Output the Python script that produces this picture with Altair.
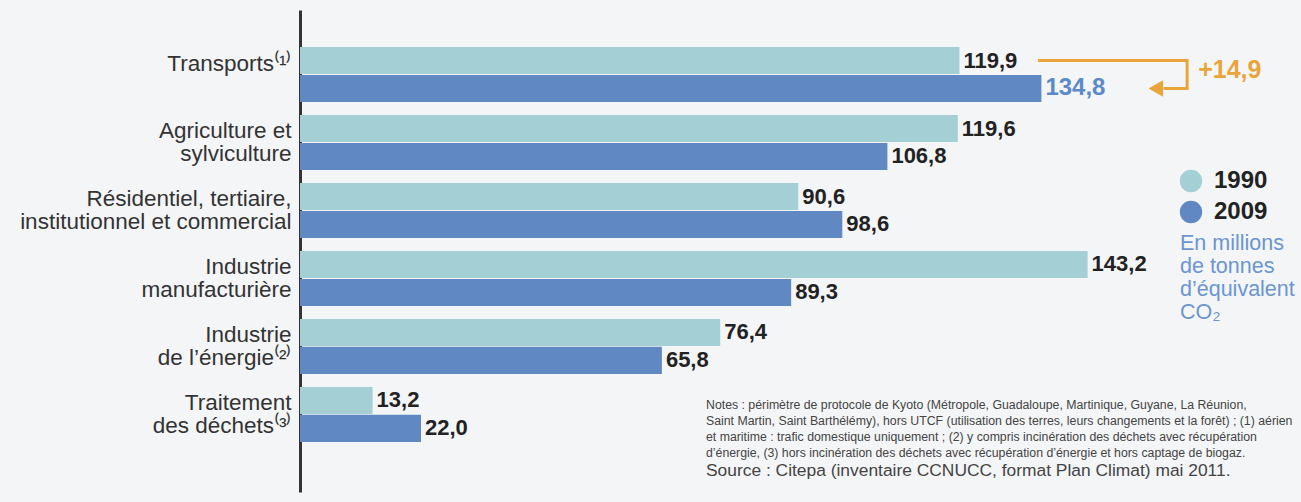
import altair as alt
import pandas as pd

categories = [
    "Transports⁽¹⁾| ",
    "Agriculture et |sylviculture",
    "Résidentiel, tertiaire, |institutionnel et commercial",
    "Industrie |manufacturière",
    "Industrie |de l’énergie⁽²⁾",
    "Traitement |des déchets⁽³⁾",
]
years = ["1990", "2009"]
v1990 = [119.9, 119.6, 90.6, 143.2, 76.4, 13.2]
v2009 = [134.8, 106.8, 98.6, 89.3, 65.8, 22.0]
colors = ["#a3cfd5", "#6089c4"]

rows = []
for c, a, b in zip(categories, v1990, v2009):
    rows.append({"cat": c, "year": "1990", "value": a, "hl": 0})
    rows.append({"cat": c, "year": "2009", "value": b, "hl": 1 if c.startswith("Transports") else 0})
df = pd.DataFrame(rows)

# annotation bracket (data units)
delta_label = "+14,9"
bracket = pd.DataFrame([
    {"cat": categories[0], "year": "1990", "x": 134.2, "o": 0},
    {"cat": categories[0], "year": "1990", "x": 161.3, "o": 1},
    {"cat": categories[0], "year": "2009", "x": 161.3, "o": 2},
    {"cat": categories[0], "year": "2009", "x": 157.0, "o": 3},
])
arrow_head = pd.DataFrame([{"cat": categories[0], "year": "2009", "x": 155.6}])
delta_df = pd.DataFrame([{"cat": categories[0], "x": 163.3, "t": delta_label}])

FONT = "Liberation Sans"
xscale = alt.Scale(domain=[0, 180], nice=False, zero=True)
yscale = alt.Scale(domain=categories, paddingInner=0.19, paddingOuter=0.64, align=0.425)
yoff = alt.Scale(domain=years, paddingInner=0.03, paddingOuter=0)

base = alt.Chart(df)
y_enc = alt.Y("cat:N", sort=categories, scale=yscale, title=None,
              axis=alt.Axis(labelExpr="split(datum.value, '|')", domainColor="#333333",
                            domainWidth=3, ticks=False, labelFontSize=22.5, labelColor="#333333",
                            labelPadding=9, labelLineHeight=23, labelFont=FONT,
                            labelLimit=400, labelOffset=-11))

bars = base.mark_bar().encode(
    x=alt.X("value:Q", scale=xscale, axis=None),
    y=y_enc,
    yOffset=alt.YOffset("year:N", scale=yoff),
    color=alt.Color("year:N", scale=alt.Scale(domain=years, range=colors),
                    legend=alt.Legend(orient="none", legendX=879, legendY=159, title=None,
                                      symbolType="circle", symbolSize=500, labelFontSize=24,
                                      labelFontWeight="bold", labelColor="#222222",
                                      labelFont=FONT, rowPadding=7,
                                      labelOffset=11, symbolStrokeWidth=0)),
)

labels = base.transform_calculate(
    lab="replace(format(datum.value, '.1f'), '.', ',')"
).mark_text(align="left", baseline="middle", dx=4, fontWeight="bold", font=FONT).encode(
    x=alt.X("value:Q", scale=xscale),
    y=alt.Y("cat:N", sort=categories, scale=yscale),
    yOffset=alt.YOffset("year:N", scale=yoff),
    text="lab:N",
    color=alt.condition("datum.hl == 1", alt.value("#5b8ac6"), alt.value("#222222")),
    size=alt.condition("datum.hl == 1", alt.value(24), alt.value(22)),
)

line = alt.Chart(bracket).mark_line(color="#e9a43a", strokeWidth=3).encode(
    x=alt.X("x:Q", scale=xscale),
    y=alt.Y("cat:N", sort=categories, scale=yscale),
    yOffset=alt.YOffset("year:N", scale=yoff),
    order="o:Q",
)
head = alt.Chart(arrow_head).mark_point(shape="triangle-left", filled=True, size=280,
                                        color="#e9a43a", opacity=1).encode(
    x=alt.X("x:Q", scale=xscale),
    y=alt.Y("cat:N", sort=categories, scale=yscale),
    yOffset=alt.YOffset("year:N", scale=yoff),
)
delta = alt.Chart(delta_df).mark_text(align="left", baseline="middle", dy=-5, fontSize=25,
                                      fontWeight="bold", color="#e9a43a", font=FONT).encode(
    x=alt.X("x:Q", scale=xscale),
    y=alt.Y("cat:N", sort=categories, scale=yscale),
    text="t:N",
)

unit_text = alt.Chart(pd.DataFrame([{"t": "En millions\nde tonnes\nd’équivalent\nCO₂"}])).mark_text(
    align="left", baseline="alphabetic", fontSize=21.5, lineHeight=23, color="#6b96d0",
    font=FONT, lineBreak="\n"
).encode(x=alt.value(880), y=alt.value(240), text="t:N")

notes = ("Notes : périmètre de protocole de Kyoto (Métropole, Guadaloupe, Martinique, Guyane, La Réunion,\n"
         "Saint Martin, Saint Barthélémy), hors UTCF (utilisation des terres, leurs changements et la forêt) ; (1) aérien\n"
         "et maritime : trafic domestique uniquement ; (2) y compris incinération des déchets avec récupération\n"
         "d’énergie, (3) hors incinération des déchets avec récupération d’énergie et hors captage de biogaz.")
source = "Source : Citepa (inventaire CCNUCC, format Plan Climat) mai 2011."

notes_text = alt.Chart(pd.DataFrame([{"t": notes}])).mark_text(
    align="left", baseline="alphabetic", fontSize=12.3, lineHeight=16, color="#444444",
    font=FONT, lineBreak="\n"
).encode(x=alt.value(406), y=alt.value(399), text="t:N")
source_text = alt.Chart(pd.DataFrame([{"t": source}])).mark_text(
    align="left", baseline="alphabetic", fontSize=17.4, color="#444444", font=FONT
).encode(x=alt.value(406), y=alt.value(466), text="t:N")

chart = alt.layer(bars, labels, line, head, delta, unit_text, notes_text, source_text).properties(
    width=990, height=482,
    autosize=alt.AutoSizeParams(type="none"),
    padding={"left": 300, "top": 10, "right": 11, "bottom": 10},
    background="#f4f5f7",
).configure_view(stroke=None)

chart.save("out.html", embed_options={"renderer": "svg", "actions": False})
